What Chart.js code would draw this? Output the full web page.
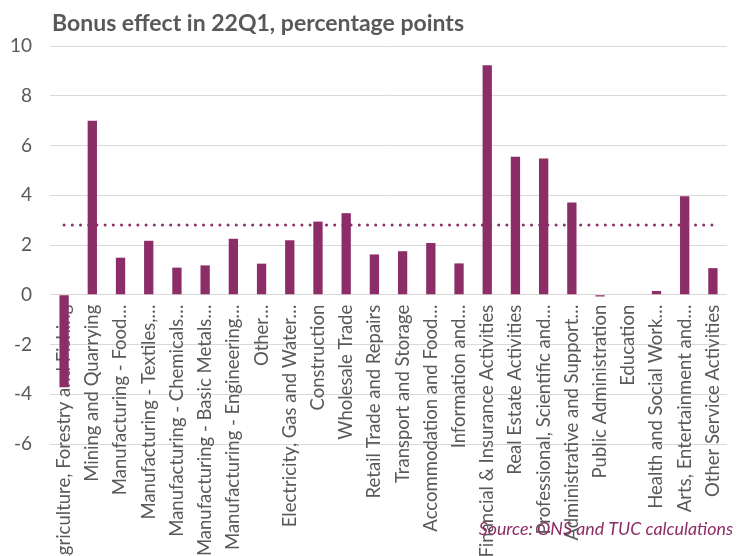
<!DOCTYPE html>
<html><head><meta charset="utf-8">
<script src="https://cdn.jsdelivr.net/npm/chart.js@4/dist/chart.umd.min.js"></script>
<style>html,body{margin:0;padding:0;background:#fff}#wrap{position:relative;width:750px;height:556px}</style>
</head><body><div id="wrap"><canvas id="c" width="750" height="556"></canvas></div>
<script>
const categories = [
  "Agriculture, Forestry and Fishing",
  "Mining and Quarrying",
  "Manufacturing - Food\u2026",
  "Manufacturing - Textiles,\u2026",
  "Manufacturing - Chemicals\u2026",
  "Manufacturing - Basic Metals\u2026",
  "Manufacturing - Engineering\u2026",
  "Other\u2026",
  "Electricity, Gas and Water\u2026",
  "Construction",
  "Wholesale Trade",
  "Retail Trade and Repairs",
  "Transport and Storage",
  "Accommodation and Food\u2026",
  "Information and\u2026",
  "Financial & Insurance Activities",
  "Real Estate Activities",
  "Professional, Scientific and\u2026",
  "Administrative and Support\u2026",
  "Public Administration",
  "Education",
  "Health and Social Work\u2026",
  "Arts, Entertainment and\u2026",
  "Other Service Activities"
];
const bonusEffect = [-3.72, 6.99, 1.49, 2.17, 1.09, 1.18, 2.25, 1.25, 2.19, 2.94, 3.28, 1.62,
                     1.75, 2.08, 1.26, 9.23, 5.55, 5.48, 3.71, -0.07, 0, 0.15, 3.96, 1.07];
const averageEffect = categories.map(() => 2.8);
const yTickValues = [-6, -4, -2, 0, 2, 4, 6, 8, 10];
const titleText = "Bonus effect in 22Q1, percentage points";
const sourceText = "Source: ONS and TUC calculations";

const PURPLE = '#8C2D67';
const GREY = '#595959';
const FONT = 'Lato';

const textPlugin = {
  id: 'texts',
  afterDraw(chart) {
    const ctx = chart.ctx;
    ctx.save();
    ctx.fillStyle = GREY;
    ctx.font = 'bold 23px ' + FONT;
    ctx.textAlign = 'left';
    ctx.textBaseline = 'middle';
    ctx.fillText(titleText, 52, 24);
    ctx.fillStyle = PURPLE;
    ctx.font = 'italic 17.8px ' + FONT;
    ctx.textAlign = 'right';
    ctx.fillText(sourceText, 733, 529);
    ctx.restore();
  }
};

new Chart(document.getElementById('c'), {
  data: {
    labels: categories,
    datasets: [
      {
        type: 'line',
        data: averageEffect,
        borderColor: PURPLE,
        borderWidth: 3,
        borderDash: [0, 8.2],
        borderCapStyle: 'round',
        pointRadius: 0,
        fill: false,
        order: 2
      },
      {
        type: 'bar',
        data: bonusEffect,
        backgroundColor: PURPLE,
        barPercentage: 0.33,
        categoryPercentage: 1,
        order: 1
      }
    ]
  },
  options: {
    responsive: false,
    animation: false,
    devicePixelRatio: 1,
    layout: { padding: { top: 46, right: 23, bottom: 112, left: 0 } },
    plugins: { legend: { display: false }, tooltip: { enabled: false } },
    scales: {
      x: {
        position: { y: 0 },
        z: 1,
        grid: { display: false, drawTicks: false },
        border: { display: false },
        ticks: {
          autoSkip: false,
          minRotation: 90,
          maxRotation: 90,
          padding: 10,
          color: GREY,
          font: { family: FONT, size: 18.5 }
        }
      },
      y: {
        min: -6,
        max: 10,
        afterFit(scale) { scale.width = 50; },
        afterBuildTicks(scale) { scale.ticks = yTickValues.map(v => ({ value: v })); },
        grid: { color: '#D9D9D9', lineWidth: 1, drawTicks: false },
        border: { display: false },
        ticks: {
          padding: 18,
          color: GREY,
          font: { family: FONT, size: 19 }
        }
      }
    }
  },
  plugins: [textPlugin]
});
</script></body></html>
